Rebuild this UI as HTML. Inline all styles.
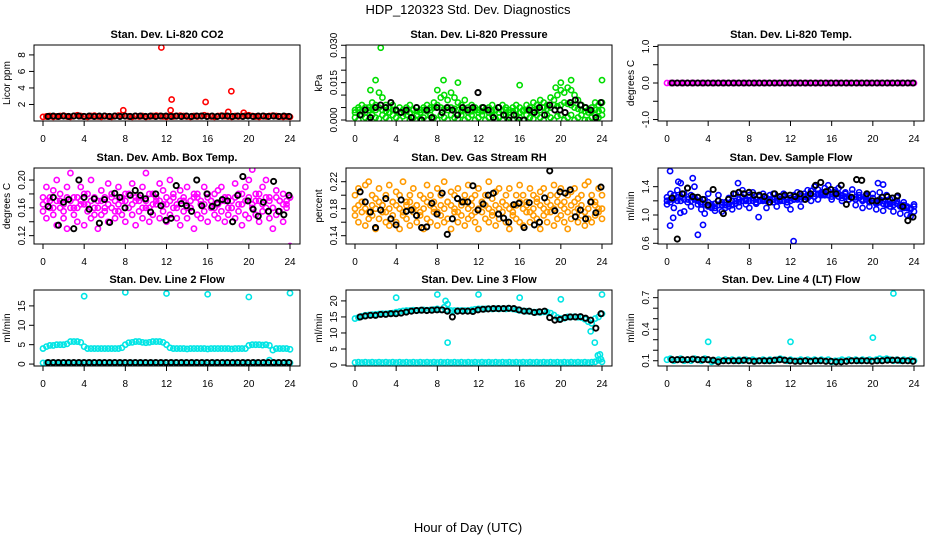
<!DOCTYPE html>
<html><head><meta charset="utf-8">
<style>
html,body{margin:0;padding:0;background:#fff;}
svg{display:block;font-family:"Liberation Sans",Arial,sans-serif;}
</style></head>
<body>
<svg id="chart" width="936" height="540" viewBox="0 0 936 540" xmlns="http://www.w3.org/2000/svg">
<text x="468" y="14" font-size="13" text-anchor="middle">HDP_120323  Std. Dev. Diagnostics</text>
<text x="468" y="532" font-size="13" text-anchor="middle">Hour of Day (UTC)</text>
</svg>
<script>
// ---------- data ----------
const xTicks = [0,4,8,12,16,20,24];

// Panel 1: Li-820 CO2
const co2Red = [0.5,0.55,0.6,0.5,0.55,0.6,0.65,0.55,0.5,0.6,0.7,0.6,0.55,0.5,0.6,0.65,0.55,0.5,0.6,0.55,0.5,0.6,0.65,0.7,0.6,0.55,0.5,0.6,0.55,0.6,0.5,0.55,0.6,0.65,0.6,0.55,0.5,0.6,0.55,0.6,0.65,0.6,0.55,0.5,0.6,0.55,0.6,0.7,0.6,0.55,0.5,0.6,0.65,0.6,0.55,0.5,0.6,0.55,0.6,0.65,0.7,0.6,0.55,0.5,0.6,0.55,0.6,0.65,0.6,0.55,0.5,0.55,0.5];
const co2Black = [0.55,0.6,0.55,0.6,0.55,0.6,0.6,0.55,0.6,0.55,0.6,0.6,0.55,0.6,0.55,0.6,0.55,0.6,0.6,0.55,0.6,0.55,0.6,0.6,0.55,0.6,0.55,0.6,0.55,0.6,0.6,0.55,0.6,0.55,0.6,0.6,0.55,0.6,0.55,0.6,0.55,0.6,0.6,0.55,0.6,0.55,0.6,0.55];
const co2OutHours = [11.5,12.5,12.4,15.8,18.3,7.8,18.0,19.5];
const co2OutVals = [8.9,2.6,1.3,2.3,3.6,1.3,1.1,1.0];

// Panel 2: Li-820 Pressure
const presLow = [0.001,0.0,0.002,0.001,0.0,0.002,0.001,0.0005,0.002,0.001,0.0,0.002,0.001,0.0,0.0015,0.002,0.0,0.001,0.002,0.0005,0.001,0.0,0.002,0.001,0.0,0.002,0.001,0.0,0.002,0.001,0.0005,0.002,0.0,0.001,0.002,0.0,0.001,0.002,0.0,0.001,0.002,0.0005,0.001,0.0,0.002,0.001,0.0,0.002,0.001,0.0,0.002,0.001,0.0005,0.002,0.001,0.0,0.002,0.001,0.0,0.0015,0.002,0.0,0.001,0.002,0.0,0.001,0.002,0.0,0.0,0.001,0.002,0.001,0.002];
const presMid = [0.003,0.004,0.0035,0.003,0.004,0.0045,0.004,0.005,0.004,0.0035,0.003,0.004,0.0035,0.003,0.004,0.0035,0.003,0.004,0.0035,0.003,0.004,0.0035,0.004,0.005,0.006,0.005,0.0045,0.004,0.005,0.0045,0.004,0.0035,0.004,0.003,0.0035,0.004,0.003,0.0035,0.004,0.003,0.0035,0.004,0.003,0.0035,0.004,0.003,0.0035,0.004,0.003,0.0035,0.004,0.0035,0.004,0.0045,0.004,0.005,0.0045,0.005,0.006,0.0055,0.006,0.007,0.0065,0.006,0.005,0.0045,0.004,0.0035,0.003,0.0035,0.004,0.0035,0.004];
const presHigh = [0.004,0.005,0.006,0.005,0.005,0.007,0.006,0.011,0.009,0.006,0.005,0.006,0.004,0.005,0.004,0.005,0.006,0.004,0.005,0.004,0.005,0.006,0.005,0.007,0.012,0.009,0.010,0.008,0.011,0.009,0.007,0.006,0.008,0.005,0.006,0.005,0.004,0.005,0.004,0.005,0.006,0.004,0.005,0.006,0.005,0.004,0.005,0.006,0.005,0.004,0.006,0.005,0.007,0.006,0.008,0.007,0.006,0.009,0.008,0.010,0.012,0.011,0.013,0.012,0.010,0.008,0.006,0.005,0.004,0.005,0.007,0.006,0.007];
const presBlack = [0.002,0.004,0.001,0.005,0.006,0.005,0.007,0.004,0.003,0.004,0.001,0.005,0.000,0.004,0.001,0.005,0.003,0.005,0.004,0.002,0.005,0.004,0.005,0.011,0.005,0.004,0.001,0.005,0.002,0.000,0.002,0.000,0.000,0.004,0.003,0.005,0.002,0.006,0.004,0.004,0.003,0.007,0.008,0.006,0.005,0.004,0.001,0.007];
const presOutHours = [2.5,2.0,8.6,10.0,16.0,21.0,24.0,20.0,1.5,19.5];
const presOutVals = [0.029,0.016,0.016,0.015,0.014,0.016,0.016,0.015,0.012,0.013];

// Panel 3: Li-820 Temp
const tempMag = [0,0,0,0,0,0,0,0,0,0,0,0,0,0,0,0,0,0,0,0,0,0,0,0,0,0,0,0,0,0,0,0,0,0,0,0,0,0,0,0,0,0,0,0,0,0,0,0,0,0,0,0,0,0,0,0,0,0,0,0,0,0,0,0,0,0,0,0,0,0,0,0,0];
const tempBlack = [0,0,0,0,0,0,0,0,0,0,0,0,0,0,0,0,0,0,0,0,0,0,0,0,0,0,0,0,0,0,0,0,0,0,0,0,0,0,0,0,0,0,0,0,0,0,0,0];

// Panel 4: Amb. Box Temp
const ambA = [0.175,0.19,0.16,0.185,0.2,0.17,0.155,0.19,0.21,0.175,0.16,0.19,0.165,0.18,0.2,0.15,0.17,0.185,0.16,0.195,0.175,0.155,0.19,0.17,0.18,0.16,0.195,0.175,0.17,0.19,0.21,0.16,0.18,0.17,0.195,0.185,0.165,0.2,0.175,0.16,0.185,0.17,0.19,0.16,0.18,0.175,0.165,0.19,0.18,0.17,0.16,0.185,0.19,0.17,0.175,0.16,0.195,0.18,0.165,0.19,0.2,0.215,0.18,0.17,0.19,0.2,0.175,0.16,0.185,0.17,0.18,0.165,0.175];
const ambMid = [0.165,0.17,0.175,0.16,0.17,0.18,0.165,0.175,0.17,0.16,0.175,0.17,0.18,0.165,0.17,0.175,0.16,0.17,0.175,0.165,0.18,0.17,0.165,0.175,0.17,0.18,0.165,0.17,0.175,0.16,0.17,0.18,0.165,0.175,0.17,0.165,0.175,0.17,0.18,0.165,0.17,0.175,0.16,0.17,0.175,0.18,0.17,0.165,0.175,0.17,0.18,0.165,0.17,0.175,0.16,0.17,0.175,0.165,0.18,0.17,0.175,0.165,0.17,0.18,0.165,0.175,0.17,0.16,0.175,0.17,0.165,0.17,0.175];
const ambB = [0.155,0.145,0.17,0.15,0.135,0.16,0.145,0.13,0.16,0.15,0.14,0.165,0.135,0.155,0.145,0.16,0.13,0.15,0.155,0.14,0.16,0.145,0.155,0.15,0.14,0.16,0.15,0.135,0.155,0.145,0.16,0.14,0.15,0.165,0.145,0.155,0.14,0.15,0.16,0.145,0.135,0.155,0.145,0.16,0.13,0.15,0.145,0.155,0.14,0.16,0.15,0.145,0.155,0.14,0.15,0.16,0.145,0.155,0.135,0.15,0.145,0.16,0.15,0.14,0.155,0.16,0.145,0.13,0.15,0.155,0.14,0.16,0.105];
const ambBlack = [0.162,0.175,0.135,0.168,0.172,0.13,0.2,0.175,0.158,0.173,0.138,0.172,0.139,0.181,0.175,0.16,0.178,0.185,0.178,0.173,0.154,0.18,0.163,0.142,0.145,0.192,0.166,0.163,0.155,0.2,0.163,0.18,0.162,0.167,0.172,0.17,0.14,0.178,0.205,0.17,0.158,0.148,0.168,0.155,0.198,0.155,0.15,0.178];

// Panel 5: Gas Stream RH
const rhA = [0.2,0.21,0.19,0.215,0.22,0.2,0.195,0.21,0.185,0.2,0.215,0.19,0.205,0.2,0.22,0.19,0.2,0.21,0.185,0.2,0.195,0.215,0.2,0.19,0.21,0.2,0.22,0.19,0.205,0.2,0.21,0.19,0.2,0.215,0.195,0.2,0.21,0.19,0.2,0.22,0.195,0.205,0.21,0.19,0.2,0.21,0.185,0.2,0.215,0.2,0.19,0.21,0.2,0.195,0.205,0.21,0.19,0.2,0.215,0.2,0.21,0.19,0.2,0.205,0.21,0.195,0.2,0.215,0.22,0.2,0.19,0.21,0.2];
const rhMid = [0.18,0.185,0.19,0.18,0.175,0.185,0.18,0.19,0.185,0.175,0.18,0.19,0.185,0.18,0.175,0.185,0.19,0.18,0.185,0.175,0.18,0.19,0.185,0.18,0.175,0.185,0.18,0.19,0.185,0.18,0.175,0.185,0.19,0.18,0.185,0.175,0.18,0.19,0.185,0.18,0.175,0.185,0.18,0.19,0.185,0.18,0.175,0.185,0.19,0.18,0.185,0.175,0.18,0.19,0.185,0.18,0.175,0.185,0.18,0.19,0.185,0.18,0.175,0.185,0.19,0.18,0.185,0.175,0.18,0.19,0.185,0.18,0.18];
const rhB = [0.17,0.16,0.175,0.155,0.165,0.17,0.15,0.165,0.175,0.16,0.155,0.17,0.16,0.15,0.17,0.165,0.155,0.175,0.16,0.17,0.15,0.165,0.16,0.175,0.155,0.17,0.16,0.165,0.15,0.175,0.16,0.17,0.155,0.165,0.17,0.16,0.15,0.175,0.165,0.16,0.17,0.155,0.165,0.175,0.16,0.15,0.17,0.165,0.16,0.155,0.175,0.16,0.17,0.165,0.15,0.17,0.16,0.175,0.155,0.165,0.17,0.16,0.15,0.165,0.175,0.16,0.17,0.155,0.165,0.16,0.17,0.175,0.165];
const rhBlack = [0.205,0.19,0.175,0.152,0.178,0.195,0.165,0.156,0.193,0.176,0.178,0.17,0.152,0.153,0.188,0.172,0.203,0.142,0.165,0.195,0.19,0.19,0.214,0.178,0.187,0.2,0.203,0.172,0.166,0.16,0.186,0.188,0.152,0.189,0.156,0.16,0.196,0.236,0.177,0.205,0.203,0.208,0.168,0.178,0.165,0.19,0.174,0.212];

// Panel 6: Sample Flow
const flowA = [1.25,1.22,1.28,1.2,1.26,1.3,1.22,1.28,1.25,1.2,1.15,1.22,1.18,1.12,1.16,1.2,1.14,1.18,1.12,1.2,1.16,1.22,1.25,1.2,1.28,1.24,1.22,1.26,1.2,1.24,1.28,1.22,1.25,1.2,1.26,1.22,1.24,1.28,1.22,1.26,1.3,1.28,1.34,1.3,1.36,1.32,1.38,1.34,1.3,1.35,1.3,1.28,1.32,1.26,1.3,1.25,1.28,1.22,1.26,1.2,1.24,1.18,1.22,1.2,1.16,1.22,1.18,1.2,1.14,1.18,1.12,1.1,1.15];
const flowMid = [1.2,1.18,1.22,1.25,1.2,1.22,1.18,1.2,1.22,1.15,1.18,1.15,1.12,1.15,1.1,1.14,1.18,1.14,1.16,1.14,1.2,1.18,1.2,1.22,1.2,1.2,1.18,1.2,1.22,1.2,1.22,1.18,1.2,1.22,1.2,1.18,1.2,1.22,1.24,1.22,1.26,1.24,1.28,1.26,1.3,1.28,1.3,1.28,1.26,1.28,1.26,1.24,1.26,1.22,1.24,1.22,1.24,1.2,1.22,1.18,1.2,1.16,1.18,1.16,1.14,1.16,1.14,1.16,1.12,1.14,1.1,1.08,1.12];
const flowB = [1.15,1.3,1.1,1.35,1.45,1.05,1.38,1.12,1.4,1.25,1.08,1.02,1.3,1.1,1.06,1.28,1.05,1.1,1.24,1.08,1.3,1.12,1.35,1.15,1.1,1.32,1.16,1.2,1.3,1.1,1.18,1.3,1.12,1.2,1.3,1.14,1.08,1.22,1.32,1.12,1.22,1.35,1.2,1.4,1.22,1.3,1.28,1.42,1.22,1.32,1.38,1.2,1.3,1.22,1.36,1.14,1.32,1.1,1.28,1.12,1.3,1.08,1.32,1.06,1.28,1.12,1.05,1.25,1.02,1.1,1.0,0.98,1.05];
const flowBlack = [1.24,0.66,1.3,1.38,1.26,1.25,1.22,1.14,1.36,1.2,1.02,1.22,1.3,1.32,1.3,1.32,1.28,1.28,1.26,1.18,1.3,1.26,1.28,1.28,1.26,1.3,1.22,1.3,1.42,1.46,1.33,1.36,1.3,1.42,1.15,1.25,1.5,1.49,1.3,1.2,1.2,1.25,1.26,1.24,1.27,1.12,0.92,0.97];
const flowOutHours = [0.3,0.3,0.6,3.0,3.5,12.3,8.9,2.5,6.9,20.5,21.0,1.1,1.3];
const flowOutVals = [1.62,0.85,0.96,0.72,0.86,0.63,0.97,1.52,1.45,1.45,1.43,1.47,1.03];

// Panel 7: Line 2 Flow
const l2Upper = [4,4.5,4.8,4.8,5,5,5,5.2,5.8,5.8,5.8,5.6,4.5,4,4,4,4,4,4,4,4,4,4,4.2,5,5.5,5.6,5.8,5.8,5.6,5.5,5.6,5.8,5.8,5.8,5.6,5,4.2,4,4,4,4,3.9,4,4,4,4,4,3.9,4,4,4,4,4,4,3.9,4,4,4,4,4.8,5,5,5,4.9,5,4.8,3.6,4,4,4,4,3.8];
const l2Lower = [0.3,0.3,0.3,0.3,0.3,0.3,0.3,0.3,0.3,0.3,0.3,0.3,0.3,0.3,0.3,0.3,0.3,0.3,0.3,0.3,0.3,0.3,0.3,0.3,0.3,0.3,0.3,0.3,0.3,0.3,0.3,0.3,0.3,0.3,0.3,0.3,0.3,0.3,0.3,0.3,0.3,0.3,0.3,0.3,0.3,0.3,0.3,0.3,0.3,0.3,0.3,0.3,0.3,0.3,0.3,0.3,0.3,0.3,0.3,0.3,0.3,0.3,0.3,0.3,0.3,0.3,1.0,0.3,0.3,0.3,0.3,0.3,0.3];
const l2Black = [0.4,0.4,0.4,0.4,0.4,0.4,0.4,0.4,0.4,0.4,0.4,0.4,0.4,0.4,0.4,0.4,0.4,0.4,0.4,0.4,0.4,0.4,0.4,0.4,0.4,0.4,0.4,0.4,0.4,0.4,0.4,0.4,0.4,0.4,0.4,0.4,0.4,0.4,0.4,0.4,0.4,0.4,0.4,0.4,0.4,0.4,0.4,0.4];
const l2OutHours = [4,8,12,16,20,24];
const l2OutVals = [17.5,18.5,18.2,18,17.3,18.3];

// Panel 8: Line 3 Flow
const l3Upper = [14.5,14.8,15.2,15.5,15.6,15.7,15.8,15.9,16,16,16.1,16.2,16.5,16.7,16.9,17,17,17.1,17,17.1,17.2,17.1,17.2,17.3,17.5,17.2,18,17.2,17,17,17,17,17,17,17.2,17.4,17.5,17.5,17.5,17.6,17.5,17.6,17.5,17.6,17.5,17.6,17.5,17.3,17,16.9,16.8,16.7,16.5,16.5,16.4,16.6,16.5,16.2,15.6,14.8,14.5,14.6,15,15,15.1,14.9,14.8,14.3,13.5,13,14.5,15,16];
const l3Lower = [0.8,0.9,0.8,0.9,0.8,0.9,0.8,0.9,0.8,0.9,0.8,0.9,0.8,0.9,0.8,0.9,0.8,0.9,0.8,0.9,0.8,0.9,0.8,0.9,0.8,0.9,0.8,0.9,0.8,0.9,0.8,0.9,0.8,0.9,0.8,0.9,0.8,0.9,0.8,0.9,0.8,0.9,0.8,0.9,0.8,0.9,0.8,0.9,0.8,0.9,0.8,0.9,0.8,0.9,0.8,0.9,0.8,0.9,0.8,0.9,0.8,0.9,0.8,0.9,0.8,0.9,0.8,0.9,0.8,0.9,1.0,1.5,1.0];
const l3Black = [15,15.3,15.5,15.5,15.8,15.8,16,16,16.2,16.5,16.8,17,17.1,17,17.1,17.2,17.2,16.8,15,16.8,16.8,16.8,16.7,17.2,17.4,17.5,17.6,17.6,17.6,17.7,17.6,17.2,16.8,16.8,16.4,16.6,16.8,14.8,14,14.2,14.8,15,15,15.1,14.6,14,11.5,16];
const l3OutHours = [4,8,8.8,9,9,12,16,20,24,22.9,23.3,23.6,23.8,23.9];
const l3OutVals = [21,22,20,7,19,22,21,20.5,22,10.5,7,3,3.3,1.8];

// Panel 9: Line 4 (LT) Flow
const l4Cyan = [0.11,0.12,0.1,0.11,0.12,0.1,0.11,0.1,0.12,0.11,0.1,0.12,0.11,0.09,0.1,0.11,0.1,0.11,0.1,0.11,0.1,0.11,0.1,0.11,0.1,0.11,0.1,0.1,0.11,0.1,0.11,0.1,0.11,0.12,0.11,0.1,0.11,0.1,0.1,0.11,0.1,0.11,0.1,0.11,0.1,0.11,0.1,0.11,0.09,0.1,0.1,0.11,0.1,0.11,0.1,0.11,0.1,0.11,0.1,0.11,0.1,0.11,0.12,0.11,0.12,0.11,0.1,0.11,0.1,0.11,0.1,0.11,0.1];
const l4Black = [0.11,0.11,0.11,0.11,0.115,0.11,0.11,0.11,0.105,0.09,0.1,0.1,0.1,0.1,0.105,0.1,0.095,0.1,0.1,0.1,0.105,0.11,0.105,0.1,0.095,0.095,0.1,0.095,0.1,0.1,0.095,0.095,0.09,0.09,0.095,0.1,0.1,0.1,0.1,0.095,0.1,0.1,0.105,0.105,0.105,0.1,0.1,0.095];
const l4OutHours = [4,12,20,22];
const l4OutVals = [0.28,0.28,0.32,0.74];

// ---------- layout ----------
const svg = document.getElementById('chart');
const NS = 'http://www.w3.org/2000/svg';
const colLeft = [34, 346, 658];
const rowTop = [45, 168, 290];
const PW = 266, PH = 76;

function mk(tag, attrs, parent) {
  const e = document.createElementNS(NS, tag);
  for (const k in attrs) e.setAttribute(k, attrs[k]);
  (parent || svg).appendChild(e);
  return e;
}

function drawPanel(p) {
  const L = colLeft[p.col], T = rowTop[p.row], B = T + PH;
  const g = mk('g', {});
  
  
  const xs = h => L + 9 + h * (247 / 24);
  const ys = v => B - (v - p.ymin) / (p.ymax - p.ymin) * PH;

  const title = mk('text', {x: L + PW / 2, y: T - 7, 'font-size': 11, 'font-weight': 'bold', 'text-anchor': 'middle'}, g);
  title.textContent = p.title;
  
  

  const yt = mk('text', {transform: `translate(${L - 24},${T + PH / 2}) rotate(-90)`, 'font-size': 10, 'text-anchor': 'middle'}, g);
  yt.textContent = p.ylab;
  
  

  const xa = mk('g', {}, g);
  
  
  xTicks.forEach(t => {
    mk('line', {x1: xs(t), x2: xs(t), y1: B, y2: B + 5, stroke: '#000', 'stroke-width': 1}, xa);
    const tx = mk('text', {x: xs(t), y: B + 21, 'font-size': 10, 'text-anchor': 'middle'}, xa);
    tx.textContent = t;
    
    
  });
  const ya = mk('g', {}, g);
  
  
  p.yticks.forEach(t => {
    mk('line', {x1: L, x2: L - 5, y1: ys(t), y2: ys(t), stroke: '#000', 'stroke-width': 1}, ya);
  });
  p.ylabels.forEach((t, i) => {
    const tx = mk('text', {transform: `translate(${L - 9},${ys(t)}) rotate(-90)`, 'font-size': 10, 'text-anchor': 'middle'}, ya);
    tx.textContent = p.ylabelText[i];
    
    
  });

  const clip = 'clip' + p.name;
  const cp = mk('clipPath', {id: clip}, g);
  mk('rect', {x: L, y: T, width: PW, height: PH}, cp);
  const pts = mk('g', {'clip-path': `url(#${clip})`}, g);
  p.series.forEach(s => {
    const sg = mk('g', {fill: 'none', stroke: s.color, 'stroke-width': s.sw || 1.6}, pts);
    
    
    s.values.forEach((v, i) => {
      let h;
      if (s.hours) h = s.hours[i];
      else if (s.black) h = 0.5 + i * 23.4 / (s.values.length - 1);
      else h = i * 24 / (s.values.length - 1);
      const c = mk('circle', {cx: xs(h), cy: ys(v), r: s.r || 2.6}, sg);
      
      
    });
  });
  const box = mk('rect', {x: L, y: T, width: PW, height: PH, fill: 'none', stroke: '#000', 'stroke-width': 1}, g);
  
  
}

const K = '#000';
const panels = [
  {name: 'panel-co2', col: 0, row: 0, title: 'Stan. Dev. Li-820 CO2', ylab: 'Licor ppm', ymin: 0, ymax: 9.2,
   yticks: [2,4,6,8], ylabels: [2,4,6,8], ylabelText: ['2','4','6','8'],
   series: [{name: 'co2-all', values: co2Red, color: '#ff0000'},
            {name: 'co2-outliers', values: co2OutVals, hours: co2OutHours, color: '#ff0000'},
            {name: 'co2-hourly', values: co2Black, color: K, black: true, sw: 1.9}]},
  {name: 'panel-pressure', col: 1, row: 0, title: 'Stan. Dev. Li-820 Pressure', ylab: 'kPa', ymin: -0.0004, ymax: 0.0301,
   yticks: [0,0.005,0.01,0.015,0.02,0.025,0.03], ylabels: [0,0.015,0.03], ylabelText: ['0.000','0.015','0.030'],
   series: [{name: 'pressure-low', values: presLow, color: '#00dd00'},
            {name: 'pressure-mid', values: presMid, color: '#00dd00'},
            {name: 'pressure-high', values: presHigh, color: '#00dd00'},
            {name: 'pressure-outliers', values: presOutVals, hours: presOutHours, color: '#00dd00'},
            {name: 'pressure-hourly', values: presBlack, color: K, black: true, sw: 1.9}]},
  {name: 'panel-temp', col: 2, row: 0, title: 'Stan. Dev. Li-820 Temp.', ylab: 'degrees C', ymin: -1.04, ymax: 1.04,
   yticks: [-1,-0.5,0,0.5,1], ylabels: [-1,0,1], ylabelText: ['-1.0','0.0','1.0'],
   series: [{name: 'temp-all', values: tempMag, color: '#ff00ff'},
            {name: 'temp-hourly', values: tempBlack, color: K, black: true, sw: 1.9}]},
  {name: 'panel-amb-temp', col: 0, row: 1, title: 'Stan. Dev. Amb. Box Temp.', ylab: 'degrees C', ymin: 0.108, ymax: 0.2173,
   yticks: [0.12,0.14,0.16,0.18,0.2], ylabels: [0.12,0.16,0.2], ylabelText: ['0.12','0.16','0.20'],
   series: [{name: 'amb-a', values: ambA, color: '#ff00ff'},
            {name: 'amb-mid', values: ambMid, color: '#ff00ff'},
            {name: 'amb-b', values: ambB, color: '#ff00ff'},
            {name: 'amb-hourly', values: ambBlack, color: K, black: true, sw: 1.9}]},
  {name: 'panel-rh', col: 1, row: 1, title: 'Stan. Dev. Gas Stream RH', ylab: 'percent', ymin: 0.1277, ymax: 0.2403,
   yticks: [0.14,0.16,0.18,0.2,0.22], ylabels: [0.14,0.18,0.22], ylabelText: ['0.14','0.18','0.22'],
   series: [{name: 'rh-a', values: rhA, color: '#ff9a00'},
            {name: 'rh-mid', values: rhMid, color: '#ff9a00'},
            {name: 'rh-b', values: rhB, color: '#ff9a00'},
            {name: 'rh-hourly', values: rhBlack, color: K, black: true, sw: 1.9}]},
  {name: 'panel-sample-flow', col: 2, row: 1, title: 'Stan. Dev. Sample Flow', ylab: 'ml/min', ymin: 0.59, ymax: 1.664,
   yticks: [0.6,0.8,1.0,1.2,1.4], ylabels: [0.6,1.0,1.4], ylabelText: ['0.6','1.0','1.4'],
   series: [{name: 'flow-a', values: flowA, color: '#0000ff'},
            {name: 'flow-mid', values: flowMid, color: '#0000ff'},
            {name: 'flow-b', values: flowB, color: '#0000ff'},
            {name: 'flow-outliers', values: flowOutVals, hours: flowOutHours, color: '#0000ff'},
            {name: 'flow-hourly', values: flowBlack, color: K, black: true, sw: 1.9}]},
  {name: 'panel-line2', col: 0, row: 2, title: 'Stan. Dev. Line 2 Flow', ylab: 'ml/min', ymin: -0.5, ymax: 19.1,
   yticks: [0,5,10,15], ylabels: [0,5,10,15], ylabelText: ['0','5','10','15'],
   series: [{name: 'line2-upper', values: l2Upper, color: '#00e5e5'},
            {name: 'line2-lower', values: l2Lower, color: '#00e5e5'},
            {name: 'line2-outliers', values: l2OutVals, hours: l2OutHours, color: '#00e5e5'},
            {name: 'line2-hourly', values: l2Black, color: K, black: true, sw: 1.9}]},
  {name: 'panel-line3', col: 1, row: 2, title: 'Stan. Dev. Line 3 Flow', ylab: 'ml/min', ymin: -0.3, ymax: 23.4,
   yticks: [0,5,10,15,20], ylabels: [0,5,10,15,20], ylabelText: ['0','5','10','15','20'],
   series: [{name: 'line3-upper', values: l3Upper, color: '#00e5e5'},
            {name: 'line3-lower', values: l3Lower, color: '#00e5e5'},
            {name: 'line3-outliers', values: l3OutVals, hours: l3OutHours, color: '#00e5e5'},
            {name: 'line3-hourly', values: l3Black, color: K, black: true, sw: 1.9}]},
  {name: 'panel-line4', col: 2, row: 2, title: 'Stan. Dev. Line 4 (LT) Flow', ylab: 'ml/min', ymin: 0.05, ymax: 0.773,
   yticks: [0.1,0.2,0.3,0.4,0.5,0.6,0.7], ylabels: [0.1,0.4,0.7], ylabelText: ['0.1','0.4','0.7'],
   series: [{name: 'line4-all', values: l4Cyan, color: '#00e5e5'},
            {name: 'line4-outliers', values: l4OutVals, hours: l4OutHours, color: '#00e5e5'},
            {name: 'line4-hourly', values: l4Black, color: K, black: true, sw: 1.9}]}
];
panels.forEach(drawPanel);
</script>
</body></html>
